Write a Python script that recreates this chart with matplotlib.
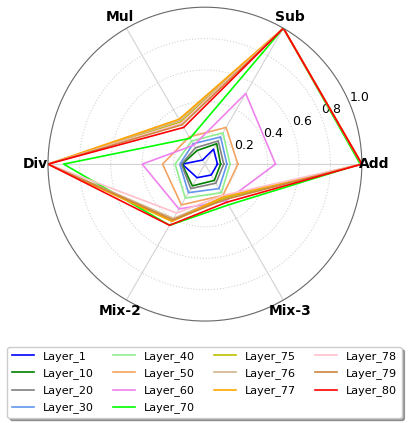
import numpy as np
import matplotlib
matplotlib.use("Agg")
from matplotlib import pyplot as plt

categories = ["Add", "Sub", "Mul", "Div", "Mix-2", "Mix-3"]
layers = ["Layer_1", "Layer_10", "Layer_20", "Layer_30", "Layer_40", "Layer_50", "Layer_60",
          "Layer_70", "Layer_75", "Layer_76", "Layer_77", "Layer_78", "Layer_79", "Layer_80"]

# values per layer, order: Add, Sub, Mul, Div, Mix-2, Mix-3
layer_1 = [0.08, 0.11, 0.03, 0.145, 0.10, 0.08]
layer_10 = [0.10, 0.15, 0.10, 0.145, 0.16, 0.12]
layer_20 = [0.12, 0.17, 0.12, 0.15, 0.18, 0.14]
layer_30 = [0.14, 0.20, 0.15, 0.16, 0.21, 0.18]
layer_40 = [0.16, 0.23, 0.17, 0.19, 0.25, 0.21]
layer_50 = [0.21, 0.27, 0.20, 0.27, 0.30, 0.23]
layer_60 = [0.45, 0.52, 0.14, 0.40, 0.33, 0.27]
layer_70 = [0.99, 1.00, 0.19, 0.90, 0.45, 0.30]
layer_75 = [1.00, 1.00, 0.31, 1.00, 0.42, 0.25]
layer_76 = [1.00, 1.00, 0.32, 1.00, 0.40, 0.24]
layer_77 = [1.00, 1.00, 0.33, 1.00, 0.42, 0.24]
layer_78 = [1.00, 1.00, 0.30, 1.00, 0.36, 0.23]
layer_79 = [1.00, 1.00, 0.29, 1.00, 0.41, 0.26]
layer_80 = [1.00, 1.00, 0.27, 1.00, 0.45, 0.28]

values = [layer_1, layer_10, layer_20, layer_30, layer_40, layer_50, layer_60,
          layer_70, layer_75, layer_76, layer_77, layer_78, layer_79, layer_80]
colors = ["blue", "green", "gray", "cornflowerblue", "lightgreen", "sandybrown", "violet",
          "lime", "y", "tan", "orange", "pink", "peru", "red"]

r_ticks = [0.2, 0.4, 0.6, 0.8, 1.0]
r_labels = ["0.2", "0.4", "0.6", "0.8", "1.0"]

angles = np.linspace(0, 2 * np.pi, len(categories), endpoint=False).tolist()
angles += angles[:1]

fig = plt.figure(figsize=(4.09, 4.23), dpi=100)
ax = fig.add_axes([0.117, 0.241, 0.768, 0.742], polar=True)

for name, vals, c in zip(layers, values, colors):
  v = vals + vals[:1]
  ax.plot(angles, v, color=c, lw=1.2, label=name)

ax.set_xticks(angles[:-1])
ax.set_xticklabels([])
# category names sit centered just outside the rim
for a, name in zip(angles[:-1], categories):
  ax.text(a, 1.08, name, fontsize=10, fontweight="bold", ha="center", va="center",
          clip_on=False)

ax.set_ylim(0, 1.0)
ax.set_yticks(r_ticks)
ax.set_yticklabels(r_labels, fontsize=9)
ax.set_rlabel_position(22.5)
ax.xaxis.grid(True, color="lightgray", lw=0.8, linestyle="-")
ax.yaxis.grid(True, color="lightgray", lw=0.8, linestyle=":")
ax.spines["polar"].set_color("dimgray")
ax.spines["polar"].set_linewidth(0.8)

fig.legend(loc="upper center", bbox_to_anchor=(0.5, 0.193), ncol=4, fontsize=8,
           frameon=True, fancybox=True, shadow=True, columnspacing=1.7,
           labelspacing=0.55)

plt.savefig("out.png", dpi=100)
